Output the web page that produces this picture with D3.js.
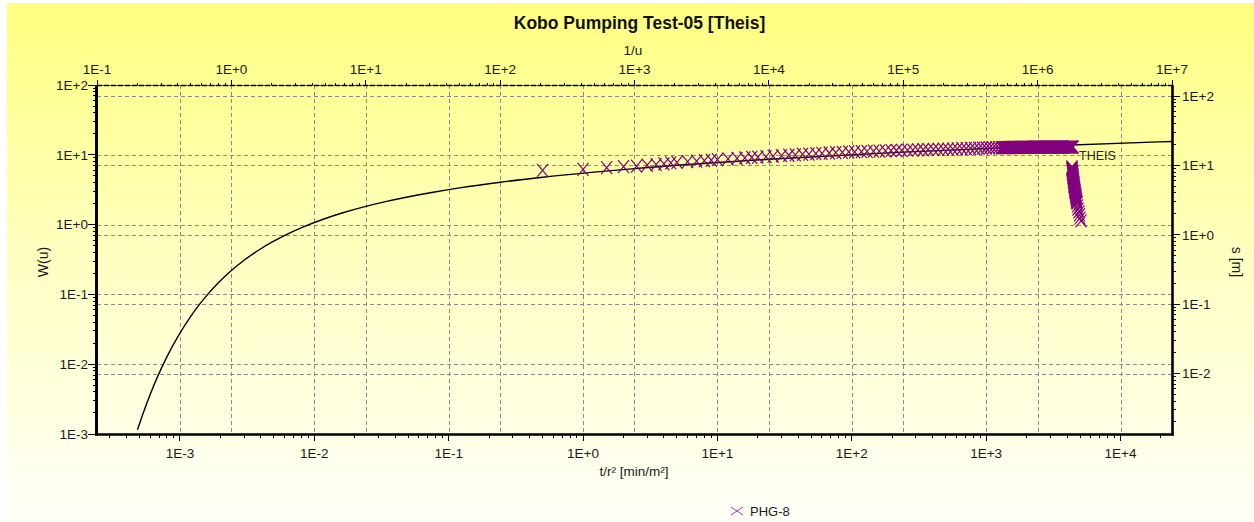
<!DOCTYPE html>
<html>
<head>
<meta charset="utf-8">
<script src="https://cdn.jsdelivr.net/npm/d3@7"></script>
<style>
  html, body { margin: 0; padding: 0; background: #ffffff; }
  svg { display: block; font-family: Arial, "Liberation Sans", sans-serif; }
</style>
</head>
<body>
<svg id="chart" width="1254" height="522"></svg>
<script>
// ---- Theis type curve: W(u) against 1/u ----
const theisInvU = [0.2, 0.2222, 0.25, 0.2857, 0.3333, 0.4, 0.5, 0.5714, 0.6667, 0.8, 1, 1.25, 1.667, 2, 2.5,
  3.333, 5, 6.667, 10, 14.29, 20, 33.33, 50, 100, 200, 500, 1000, 1e4, 1e5, 1e6, 1e7];
const theisW = [0.001148, 0.002073, 0.003779, 0.00697, 0.01305, 0.02491, 0.0489, 0.0695, 0.1, 0.1464, 0.2194,
  0.3106, 0.4544, 0.5598, 0.7024, 0.9057, 1.2227, 1.4645, 1.8229, 2.1508, 2.4679, 2.9591, 3.3547, 4.0379,
  4.7261, 5.6394, 6.3315, 8.6332, 10.9357, 13.2383, 15.5409];

// ---- Observation well PHG-8: drawdown s [m] against t/r² [min/m²] ----
const pumpT = [0.5, 1, 1.5, 2, 2.5, 3, 3.5, 4, 4.5, 5, 6, 7, 8, 9, 10, 12, 14, 16, 18, 20, 23, 26, 30, 34, 38, 43,
  48, 54, 60, 68, 76, 85, 95, 105, 118, 130, 145, 160, 178, 196, 215, 235, 260, 285, 310, 340, 370, 405, 440,
  480, 520, 565, 610, 660, 710, 765, 820, 880, 940, 1000, 1060, 1120, 1180, 1240, 1300,
  1320, 1345, 1365, 1390, 1415, 1440, 1465, 1490, 1515, 1540, 1570, 1600, 1625, 1650, 1680, 1710, 1740, 1770,
  1800, 1830, 1865, 1900, 1930, 1960, 1995, 2030, 2065, 2100, 2140, 2180, 2215, 2250, 2290, 2330, 2370, 2410,
  2455, 2500, 2545, 2590, 2635, 2680, 2725, 2770, 2820, 2870, 2920, 2970, 3020, 3070, 3125, 3180, 3235, 3290,
  3350, 3410, 3470, 3530, 3590, 3650, 3715, 3780, 3845, 3910, 3980, 4050, 4120, 4190, 4265, 4340, 4390, 4430];
const pumpS = [8.47, 8.79, 9.28, 9.58, 9.77, 10.05, 10.28, 10.49, 10.85, 11.01, 11.30, 11.54, 11.74, 11.93, 12.09,
  12.38, 12.62, 12.83, 13.01, 13.17, 13.39, 13.58, 13.81, 14.00, 14.17, 14.37, 14.54, 14.72, 14.89, 15.08, 15.26,
  15.43, 15.60, 15.66, 15.78, 15.88, 16.00, 16.09, 16.20, 16.30, 16.39, 16.46, 16.56, 16.65, 16.72, 16.80, 16.87,
  16.95, 17.01, 17.09, 17.15, 17.21, 17.29, 17.38, 17.46, 17.54, 17.61, 17.68, 17.75, 17.81, 17.86, 17.92, 17.96,
  18.00, 18.04,
  18.05, 18.05, 18.06, 18.07, 18.08, 18.08, 18.09, 18.10, 18.10, 18.11,
  18.12, 18.12, 18.13, 18.14, 18.14, 18.15, 18.16, 18.16, 18.17, 18.18,
  18.18, 18.19, 18.20, 18.20, 18.21, 18.21, 18.22, 18.23, 18.23, 18.24,
  18.24, 18.25, 18.26, 18.26, 18.27, 18.27, 18.28, 18.28, 18.29, 18.29,
  18.30, 18.30, 18.31, 18.31, 18.32, 18.32, 18.33, 18.33, 18.33, 18.34,
  18.34, 18.35, 18.35, 18.35, 18.36, 18.36, 18.36, 18.37, 18.37, 18.37,
  18.37, 18.38, 18.38, 18.38, 18.38, 18.39, 18.39, 18.39, 18.39, 18.40,
  18.40, 18.40];
// recovery readings after the pump was stopped
const recT = [4353, 4353, 4353, 4353, 4390, 4390, 4390, 4390, 4429, 4429, 4429, 4429, 4467, 4467, 4467, 4467,
  4505, 4505, 4505, 4505, 4544, 4544, 4544, 4583, 4583, 4583, 4623, 4623, 4623, 4662, 4662, 4662,
  4702, 4702, 4702, 4743, 4743, 4783, 4825, 4908, 4950, 4993, 5080];
const recS = [9.48, 9.17, 8.87, 8.58, 8.30, 8.03, 7.77, 7.51, 7.27, 7.03, 6.80, 6.58, 6.36, 6.15, 5.95, 5.76,
  5.57, 5.39, 5.21, 5.04, 4.88, 4.72, 4.56, 4.41, 4.27, 4.13, 4.00, 3.87, 3.74, 3.62, 3.50, 3.38,
  3.27, 3.17, 3.06, 2.96, 2.87, 2.60, 2.35, 2.13, 1.93, 1.74, 1.58];

// ---- axis ticks and labels ----
const bottomTicks = [1e-3, 1e-2, 1e-1, 1, 10, 100, 1000, 1e4];
const bottomLabels = ["1E-3", "1E-2", "1E-1", "1E+0", "1E+1", "1E+2", "1E+3", "1E+4"];
const topTicks = [0.1, 1, 10, 100, 1000, 1e4, 1e5, 1e6, 1e7];
const topLabels = ["1E-1", "1E+0", "1E+1", "1E+2", "1E+3", "1E+4", "1E+5", "1E+6", "1E+7"];
const leftTicks = [1e-3, 1e-2, 1e-1, 1, 10, 100];
const leftLabels = ["1E-3", "1E-2", "1E-1", "1E+0", "1E+1", "1E+2"];
const rightTicks = [1e-2, 1e-1, 1, 10, 100];
const rightLabels = ["1E-2", "1E-1", "1E+0", "1E+1", "1E+2"];

const W = 1254, H = 522;
const plot = { left: 97, right: 1172, top: 85, bottom: 434 };

const svg = d3.select("#chart");

// scales: bottom/right carry the field data, top/left carry the type curve
const xB = d3.scaleLog().domain([Math.pow(10, -3.617), Math.pow(10, 4.383)]).range([plot.left, plot.right]);
const xT = d3.scaleLog().domain([0.1, 1e7]).range([plot.left, plot.right]);
const yL = d3.scaleLog().domain([1e-3, 1e2]).range([plot.bottom, plot.top]);
const yR = d3.scaleLog().domain([Math.pow(10, -2.872), Math.pow(10, 2.1586)]).range([plot.bottom, plot.top]);

// background
const defs = svg.append("defs");
const grad = defs.append("linearGradient").attr("id", "bg").attr("x1", 0).attr("y1", 0).attr("x2", 0).attr("y2", 1);
grad.append("stop").attr("offset", "0%").attr("stop-color", "#ffff80");
grad.append("stop").attr("offset", "50%").attr("stop-color", "#ffffc2");
grad.append("stop").attr("offset", "100%").attr("stop-color", "#fffff8");
svg.append("rect").attr("x", 7).attr("y", 3).attr("width", W - 7).attr("height", H - 3).attr("fill", "url(#bg)");

defs.append("clipPath").attr("id", "plotClip").append("rect")
  .attr("x", plot.left).attr("y", plot.top)
  .attr("width", plot.right - plot.left).attr("height", plot.bottom - plot.top);

// dashed grid for all four axes
const grid = svg.append("g").attr("stroke", "#8a8a8a").attr("stroke-width", 1)
  .attr("stroke-dasharray", "4,3").attr("fill", "none").attr("shape-rendering", "crispEdges");
const vx = bottomTicks.map(d => xB(d)).concat(topTicks.map(d => xT(d)))
  .filter(x => x > plot.left + 1 && x < plot.right - 1);
grid.selectAll("line.v").data(vx).join("line").attr("class", "v")
  .attr("x1", d => Math.round(d) + 0.5).attr("x2", d => Math.round(d) + 0.5)
  .attr("y1", plot.top).attr("y2", plot.bottom);
const hy = leftTicks.map(d => yL(d)).concat(rightTicks.map(d => yR(d)))
  .filter(y => y > plot.top + 1 && y < plot.bottom - 1);
grid.selectAll("line.h").data(hy).join("line").attr("class", "h")
  .attr("y1", d => Math.round(d) + 0.5).attr("y2", d => Math.round(d) + 0.5)
  .attr("x1", plot.left).attr("x2", plot.right);

// Theis curve
const plotG = svg.append("g").attr("clip-path", "url(#plotClip)");
const line = d3.line()
  .x((d, i) => xT(theisInvU[i]))
  .y((d, i) => yL(theisW[i]))
  .curve(d3.curveMonotoneX);
plotG.append("path").datum(theisW).attr("d", line)
  .attr("fill", "none").attr("stroke", "#000").attr("stroke-width", 1.4);

// field data markers
const cross = "M-5.5,-6.5L5.5,6.5M-5.5,6.5L5.5,-6.5";
const obs = pumpT.map((t, i) => [t, pumpS[i]]).concat(recT.map((t, i) => [t, recS[i]]));
plotG.selectAll("path.obs").data(obs).join("path").attr("class", "obs")
  .attr("d", cross)
  .attr("transform", d => `translate(${xB(d[0])},${yR(d[1])})`)
  .attr("fill", "none").attr("stroke", "#800080").attr("stroke-width", 1.2);

// curve label
svg.append("text").attr("x", 1079).attr("y", 160).attr("font-size", 12.5).attr("fill", "#222").text("THEIS");

// frame
const frame = svg.append("g").attr("fill", "none");
frame.append("line").attr("x1", plot.left).attr("x2", plot.right).attr("y1", plot.top + 0.5).attr("y2", plot.top + 0.5)
  .attr("stroke", "#555").attr("stroke-width", 1);
frame.append("line").attr("x1", plot.left).attr("x2", plot.right).attr("y1", plot.top + 0.5).attr("y2", plot.top + 0.5)
  .attr("stroke", "#000").attr("stroke-width", 1.6).attr("stroke-dasharray", "5,2");
frame.append("line").attr("x1", plot.left - 0.5).attr("x2", plot.left - 0.5).attr("y1", plot.top).attr("y2", plot.bottom + 1.5)
  .attr("stroke", "#000").attr("stroke-width", 3);
frame.append("line").attr("x1", plot.right + 0.5).attr("x2", plot.right + 0.5).attr("y1", plot.top).attr("y2", plot.bottom + 1.5)
  .attr("stroke", "#000").attr("stroke-width", 2.6);
frame.append("line").attr("x1", plot.left - 2).attr("x2", plot.right + 1.8).attr("y1", plot.bottom + 0.5).attr("y2", plot.bottom + 0.5)
  .attr("stroke", "#000").attr("stroke-width", 2.6);

// minor tick helper: 1..9 per decade inside the scale domain
function logTicks(scale) {
  const [a, b] = scale.domain();
  const out = [];
  for (let e = Math.floor(Math.log10(a)); e <= Math.ceil(Math.log10(b)); e++) {
    for (let k = 1; k <= 9; k++) {
      const v = k * Math.pow(10, e);
      if (v >= a * 0.9999 && v <= b * 1.0001) out.push({ v, major: k === 1 });
    }
  }
  return out;
}

const tk = svg.append("g").attr("stroke", "#000").attr("stroke-width", 1).attr("shape-rendering", "crispEdges");
// bottom
tk.selectAll("line.b").data(logTicks(xB)).join("line").attr("class", "b")
  .attr("x1", d => xB(d.v)).attr("x2", d => xB(d.v))
  .attr("y1", plot.bottom + 1).attr("y2", d => plot.bottom + (d.major ? 7 : 4));
// top
tk.selectAll("line.t").data(logTicks(xT)).join("line").attr("class", "t")
  .attr("x1", d => xT(d.v)).attr("x2", d => xT(d.v))
  .attr("y1", plot.top).attr("y2", d => plot.top - (d.major ? 5 : 2));
// left
tk.selectAll("line.l").data(logTicks(yL)).join("line").attr("class", "l")
  .attr("y1", d => yL(d.v)).attr("y2", d => yL(d.v))
  .attr("x1", plot.left - 2).attr("x2", d => plot.left - (d.major ? 9 : 4));
// right
tk.selectAll("line.r").data(logTicks(yR)).join("line").attr("class", "r")
  .attr("y1", d => yR(d.v)).attr("y2", d => yR(d.v))
  .attr("x1", plot.right + 1).attr("x2", d => plot.right + (d.major ? 8 : 4));

// tick labels
const lab = svg.append("g").attr("font-size", 13.5).attr("fill", "#1a1a1a");
lab.selectAll("text.b").data(bottomTicks).join("text").attr("class", "b")
  .attr("x", d => xB(d)).attr("y", 458).attr("text-anchor", "middle")
  .text((d, i) => bottomLabels[i]);
lab.selectAll("text.t").data(topTicks).join("text").attr("class", "t")
  .attr("x", d => xT(d)).attr("y", 74).attr("text-anchor", "middle")
  .text((d, i) => topLabels[i]);
lab.selectAll("text.l").data(leftTicks).join("text").attr("class", "l")
  .attr("x", 88).attr("y", d => yL(d)).attr("dy", "0.36em").attr("text-anchor", "end")
  .text((d, i) => leftLabels[i]);
lab.selectAll("text.r").data(rightTicks).join("text").attr("class", "r")
  .attr("x", 1182).attr("y", d => yR(d)).attr("dy", "0.36em").attr("text-anchor", "start")
  .text((d, i) => rightLabels[i]);

// titles
svg.append("text").attr("x", 639.5).attr("y", 29).attr("text-anchor", "middle")
  .attr("font-size", 17.5).attr("font-weight", "bold").attr("fill", "#111")
  .text("Kobo Pumping Test-05 [Theis]");
svg.append("text").attr("x", 633).attr("y", 55).attr("text-anchor", "middle")
  .attr("font-size", 13.5).attr("fill", "#1a1a1a").text("1/u");
svg.append("text").attr("x", 634).attr("y", 476).attr("text-anchor", "middle")
  .attr("font-size", 13.5).attr("fill", "#1a1a1a").text("t/r² [min/m²]");
svg.append("text").attr("transform", "translate(48,262) rotate(-90)").attr("text-anchor", "middle")
  .attr("font-size", 14).attr("fill", "#1a1a1a").text("W(u)");
svg.append("text").attr("transform", "translate(1232,262) rotate(90)").attr("text-anchor", "middle")
  .attr("font-size", 14).attr("fill", "#1a1a1a").text("s [m]");

// legend
const leg = svg.append("g").attr("transform", "translate(737,511)");
leg.append("path").attr("d", "M-6,-4L6,4M-6,4L6,-4").attr("fill", "none")
  .attr("stroke", "#a040a0").attr("stroke-width", 1);
leg.append("text").attr("x", 13).attr("y", 4.5).attr("font-size", 13).attr("fill", "#1a1a1a").text("PHG-8");
</script>
</body>
</html>
